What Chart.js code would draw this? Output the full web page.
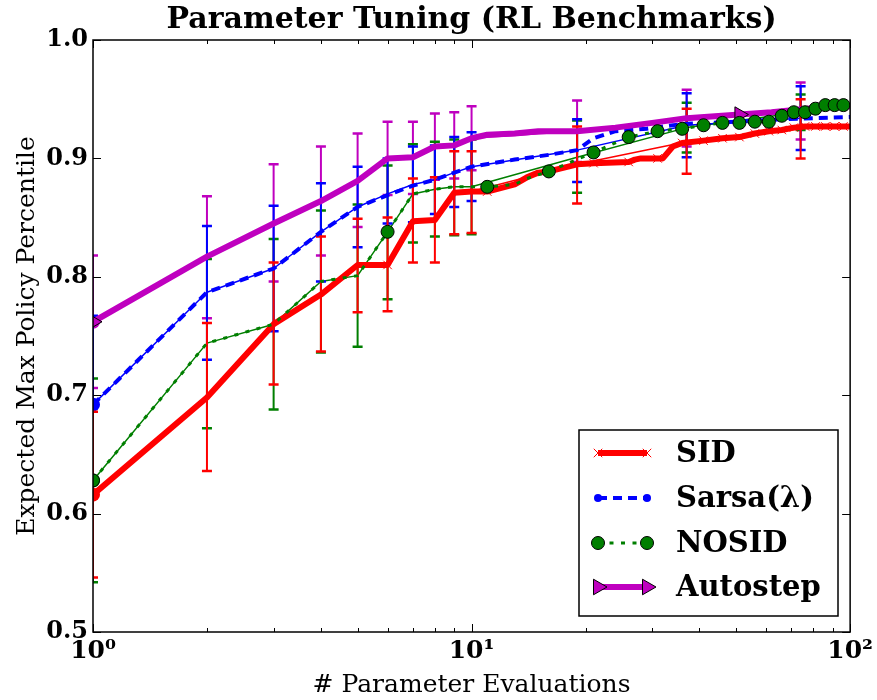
<!DOCTYPE html>
<html>
<head>
<meta charset="utf-8">
<script src="https://cdn.jsdelivr.net/npm/chart.js@4/dist/chart.umd.min.js"></script>
<style>
  html, body { margin: 0; background: #fff; }
  #wrap { width: 877px; height: 700px; }
</style>
</head>
<body>
<div id="wrap"><canvas id="chart"></canvas></div>
<script>
// x positions where the error bars sit
const errEvals = [1, 2, 3, 4, 5, 6, 7, 8, 9, 10, 19, 37, 74];

// error bar means / lower / upper, per method
const sidErrMean = [0.616, 0.698, 0.760, 0.785, 0.810, 0.810, 0.847, 0.848, 0.871, 0.872, 0.895, 0.914, 0.925];
const sidErrLo   = [0.546, 0.636, 0.709, 0.737, 0.770, 0.771, 0.812, 0.812, 0.836, 0.837, 0.862, 0.887, 0.900];
const sidErrHi   = [0.686, 0.761, 0.812, 0.834, 0.849, 0.850, 0.883, 0.884, 0.906, 0.906, 0.927, 0.942, 0.950];

const sarsaErrMean = [0.692, 0.787, 0.807, 0.838, 0.859, 0.870, 0.878, 0.882, 0.888, 0.893, 0.907, 0.928, 0.934];
const sarsaErrLo   = [0.617, 0.730, 0.754, 0.796, 0.825, 0.845, 0.846, 0.853, 0.859, 0.864, 0.880, 0.901, 0.907];
const sarsaErrHi   = [0.767, 0.843, 0.860, 0.879, 0.893, 0.900, 0.910, 0.911, 0.918, 0.922, 0.933, 0.955, 0.961];

const nosidErrMean = [0.628, 0.744, 0.760, 0.796, 0.801, 0.838, 0.870, 0.874, 0.876, 0.876, 0.901, 0.926, 0.939];
const nosidErrLo   = [0.542, 0.672, 0.688, 0.736, 0.741, 0.781, 0.829, 0.834, 0.835, 0.836, 0.871, 0.905, 0.924];
const nosidErrHi   = [0.714, 0.815, 0.832, 0.856, 0.861, 0.894, 0.912, 0.914, 0.916, 0.916, 0.932, 0.947, 0.954];

const autoErrMean = [0.762, 0.817, 0.845, 0.864, 0.881, 0.900, 0.900, 0.910, 0.911, 0.917, 0.923, 0.934, 0.940];
const autoErrLo   = [0.706, 0.765, 0.796, 0.818, 0.842, 0.869, 0.870, 0.882, 0.883, 0.890, 0.897, 0.910, 0.916];
const autoErrHi   = [0.818, 0.868, 0.895, 0.910, 0.921, 0.931, 0.931, 0.938, 0.939, 0.944, 0.949, 0.958, 0.964];

// full curves
const sidEvals = [1, 2, 3, 4, 5, 6, 7, 8, 9, 10, 11, 13, 14, 15, 16, 18, 19, 21, 26, 27, 28, 31, 32, 34, 36, 41, 46, 51, 56, 61, 66, 71, 76, 81, 86, 91, 96, 100];
const sidMean  = [0.616, 0.698, 0.760, 0.785, 0.810, 0.810, 0.847, 0.848, 0.871, 0.872, 0.872, 0.878, 0.884, 0.888, 0.889, 0.893, 0.895, 0.896, 0.897, 0.899, 0.900, 0.900, 0.900, 0.910, 0.913, 0.915, 0.917, 0.918, 0.921, 0.923, 0.924, 0.926, 0.927, 0.927, 0.927, 0.927, 0.927, 0.927];

const sarsaEvals = [1, 2, 3, 4, 5, 6, 7, 8, 9, 10, 13, 16, 19, 21, 24, 29, 36, 50, 66, 80, 100];
const sarsaMean  = [0.692, 0.787, 0.807, 0.838, 0.859, 0.869, 0.877, 0.882, 0.888, 0.893, 0.899, 0.903, 0.907, 0.917, 0.923, 0.925, 0.929, 0.931, 0.933, 0.934, 0.935];

const nosidEvals = [1, 2, 3, 4, 5, 6, 7, 8, 9, 10, 11, 13, 14, 16, 21, 26, 31, 36, 41, 46, 51, 56, 61, 66, 71, 76, 81, 86, 91, 96, 100];
const nosidMean  = [0.628, 0.744, 0.760, 0.796, 0.801, 0.838, 0.870, 0.874, 0.876, 0.876, 0.876, 0.878, 0.883, 0.889, 0.905, 0.918, 0.923, 0.925, 0.928, 0.930, 0.930, 0.931, 0.931, 0.936, 0.939, 0.939, 0.942, 0.945, 0.945, 0.945, 0.945];

const autoEvals = [1, 2, 3, 4, 5, 6, 7, 8, 9, 10, 11, 13, 15, 19, 24, 30, 37, 51, 62, 83, 100];
const autoMean  = [0.762, 0.817, 0.845, 0.864, 0.881, 0.900, 0.901, 0.910, 0.911, 0.917, 0.920, 0.921, 0.923, 0.923, 0.926, 0.930, 0.934, 0.937, 0.939, 0.943, 0.944];
const autoMarks = [1, 51];

const xTicks = [1, 10, 100];
const xTickLabels = ['10⁰', '10¹', '10²'];
const yTicks = [0.5, 0.6, 0.7, 0.8, 0.9, 1.0];

const RED = '#ff0000', BLUE = '#0000ff', GREEN = '#007f00', MAGENTA = '#bf00bf';
const SERIF = "'DejaVu Serif', serif";

const pts = (xs, ys) => xs.map((x, i) => ({ x: x, y: ys[i] }));
const every5 = (ctx, r) => (ctx.raw && (ctx.raw.x - 1) % 5 === 0) ? r : 0;

function errSet(label, color, mean, lo, hi) {
  return {
    label: label, data: pts(errEvals, mean), errLo: lo, errHi: hi,
    borderColor: color, backgroundColor: color, borderWidth: 1.5,
    pointRadius: ctx => ctx.dataIndex === 0 ? 7 : 0,
    pointBackgroundColor: color, pointBorderWidth: 0,
    order: 5, clip: 0, isErr: true
  };
}

const errorBars = {
  id: 'errorBars',
  afterDatasetDraw(chart, args) {
    const ds = chart.data.datasets[args.index];
    if (!ds.isErr) return;
    const ctx = chart.ctx, xs = chart.scales.x, ys = chart.scales.y, a = chart.chartArea;
    ctx.save();
    ctx.beginPath();
    ctx.rect(a.left, a.top, a.right - a.left, a.bottom - a.top);
    ctx.clip();
    ctx.strokeStyle = ds.borderColor;
    ds.data.forEach((p, i) => {
      const x = xs.getPixelForValue(p.x);
      const y1 = ys.getPixelForValue(ds.errLo[i]), y2 = ys.getPixelForValue(ds.errHi[i]);
      ctx.lineWidth = 2;
      ctx.beginPath(); ctx.moveTo(x, y1); ctx.lineTo(x, y2); ctx.stroke();
      ctx.lineWidth = 2.5;
      ctx.beginPath();
      ctx.moveTo(x - 5, y1); ctx.lineTo(x + 5, y1);
      ctx.moveTo(x - 5, y2); ctx.lineTo(x + 5, y2);
      ctx.stroke();
    });
    ctx.restore();
  }
};

// frame, inward ticks and the legend box
const frameAndLegend = {
  id: 'frameAndLegend',
  afterDraw(chart) {
    const ctx = chart.ctx, a = chart.chartArea, xs = chart.scales.x, ys = chart.scales.y;
    ctx.save();
    ctx.strokeStyle = '#000';
    ctx.lineWidth = 1.5;
    ctx.strokeRect(a.left, a.top, a.right - a.left, a.bottom - a.top);
    ctx.lineWidth = 1;
    ctx.beginPath();
    for (let d = 1; d <= 100; d *= 10) {
      for (let k = 1; k < 10; k++) {
        const v = d * k;
        if (v > 100) break;
        const x = Math.round(xs.getPixelForValue(v)) + 0.5;
        const len = k === 1 ? 8 : 4;
        ctx.moveTo(x, a.bottom); ctx.lineTo(x, a.bottom - len);
        ctx.moveTo(x, a.top); ctx.lineTo(x, a.top + len);
      }
    }
    yTicks.forEach(v => {
      const y = Math.round(ys.getPixelForValue(v)) + 0.5;
      ctx.moveTo(a.left, y); ctx.lineTo(a.left + 8, y);
      ctx.moveTo(a.right, y); ctx.lineTo(a.right - 8, y);
    });
    ctx.stroke();

    // legend
    const bx = 579, by = 430, bw = 259, bh = 186;
    ctx.fillStyle = '#fff';
    ctx.fillRect(bx, by, bw, bh);
    ctx.lineWidth = 1.5;
    ctx.strokeRect(bx, by, bw, bh);
    const x0 = 598, x1 = 647, tx = 676;
    const rows = [453, 498, 543, 587];
    const H = Chart.helpers;
    ctx.font = 'bold 29px ' + SERIF;
    ctx.textBaseline = 'middle';
    chart.data.datasets.filter(d => !d.isErr).sort((p, q) => p.legendIdx - q.legendIdx).forEach((d, i) => {
      const y = rows[i];
      ctx.save();
      ctx.strokeStyle = d.borderColor;
      ctx.lineWidth = d.borderWidth;
      ctx.setLineDash(d.borderDash || []);
      ctx.beginPath(); ctx.moveTo(x0, y); ctx.lineTo(x1, y); ctx.stroke();
      ctx.setLineDash([]);
      const m = d.legendMarker;
      ctx.fillStyle = m.fill; ctx.strokeStyle = m.stroke; ctx.lineWidth = m.bw;
      [x0, x1].forEach(px => H.drawPoint(ctx, { pointStyle: m.style, radius: m.r, rotation: m.rot || 0, borderWidth: m.bw }, px, y));
      ctx.restore();
      ctx.fillStyle = '#000';
      ctx.fillText(d.label, tx, y + 1);
    });
    ctx.restore();
  }
};

new Chart(document.getElementById('chart'), {
  type: 'line',
  data: {
    datasets: [
      {
        label: 'NOSID', legendIdx: 2, data: pts(nosidEvals, nosidMean),
        borderColor: GREEN, borderWidth: 3, borderDash: [4, 7.5],
        pointStyle: 'circle', pointRadius: ctx => every5(ctx, 6.5),
        pointBackgroundColor: GREEN, pointBorderColor: '#000', pointBorderWidth: 1,
        legendMarker: { style: 'circle', r: 6.5, fill: GREEN, stroke: '#000', bw: 1 },
        order: 0, clip: 0
      },
      {
        label: 'Autostep', legendIdx: 3, data: pts(autoEvals, autoMean),
        borderColor: MAGENTA, borderWidth: 6,
        pointStyle: 'triangle', pointRotation: 90,
        pointRadius: ctx => (ctx.raw && autoMarks.includes(ctx.raw.x)) ? 9 : 0,
        pointBackgroundColor: MAGENTA, pointBorderColor: '#000', pointBorderWidth: 1,
        legendMarker: { style: 'triangle', r: 9, rot: 90, fill: MAGENTA, stroke: '#000', bw: 1 },
        order: 1, clip: 0
      },
      {
        label: 'Sarsa(λ)', legendIdx: 1, data: pts(sarsaEvals, sarsaMean),
        borderColor: BLUE, borderWidth: 4, borderDash: [9, 6], pointRadius: 0,
        legendMarker: { style: 'circle', r: 4, fill: BLUE, stroke: BLUE, bw: 0 },
        order: 2, clip: 0
      },
      {
        label: 'SID', legendIdx: 0, data: pts(sidEvals, sidMean),
        borderColor: RED, borderWidth: 6,
        pointStyle: 'crossRot', pointRadius: ctx => every5(ctx, 6),
        pointBorderColor: RED, pointBorderWidth: 1,
        legendMarker: { style: 'crossRot', r: 6, fill: RED, stroke: RED, bw: 1 },
        order: 3, clip: 0
      },
      errSet('SID err', RED, sidErrMean, sidErrLo, sidErrHi),
      errSet('Sarsa err', BLUE, sarsaErrMean, sarsaErrLo, sarsaErrHi),
      errSet('NOSID err', GREEN, nosidErrMean, nosidErrLo, nosidErrHi),
      errSet('Autostep err', MAGENTA, autoErrMean, autoErrLo, autoErrHi)
    ]
  },
  options: {
    responsive: true,
    maintainAspectRatio: false,
    animation: false,
    events: [],
    elements: { line: { tension: 0, borderJoinStyle: 'round' } },
    layout: { padding: { left: 0, right: 26, top: 0, bottom: 0 } },
    plugins: {
      legend: { display: false },
      tooltip: { enabled: false },
      title: {
        display: true,
        fullSize: false,
        text: 'Parameter Tuning (RL Benchmarks)',
        color: '#000',
        font: { family: SERIF, size: 30, weight: 'bold' },
        padding: { top: 2, bottom: 2 }
      }
    },
    scales: {
      x: {
        type: 'logarithmic', min: 1, max: 100,
        grid: { display: false, drawTicks: false },
        border: { display: false },
        afterBuildTicks: s => { s.ticks = xTicks.map(v => ({ value: v, major: true })); },
        afterFit: s => { s.height = 68; },
        ticks: {
          autoSkip: false, maxRotation: 0, padding: 4, color: '#000',
          font: { family: SERIF, size: 25, weight: 'bold' },
          callback: v => xTickLabels[xTicks.indexOf(v)]
        },
        title: {
          display: true, text: '# Parameter Evaluations', color: '#000',
          font: { family: SERIF, size: 25 }, padding: { top: 0, bottom: 0 }
        }
      },
      y: {
        min: 0.5, max: 1.0,
        grid: { display: false, drawTicks: false },
        border: { display: false },
        afterBuildTicks: s => { s.ticks = yTicks.map(v => ({ value: v })); },
        afterFit: s => { s.width = 93; },
        ticks: {
          padding: 5, color: '#000',
          font: { family: SERIF, size: 24, weight: 'bold' },
          callback: v => v.toFixed(1)
        },
        title: {
          display: true, text: 'Expected Max Policy Percentile', color: '#000',
          font: { family: SERIF, size: 25 }, padding: { top: 12, bottom: 0 }
        }
      }
    }
  },
  plugins: [errorBars, frameAndLegend]
});
</script>
</body>
</html>
